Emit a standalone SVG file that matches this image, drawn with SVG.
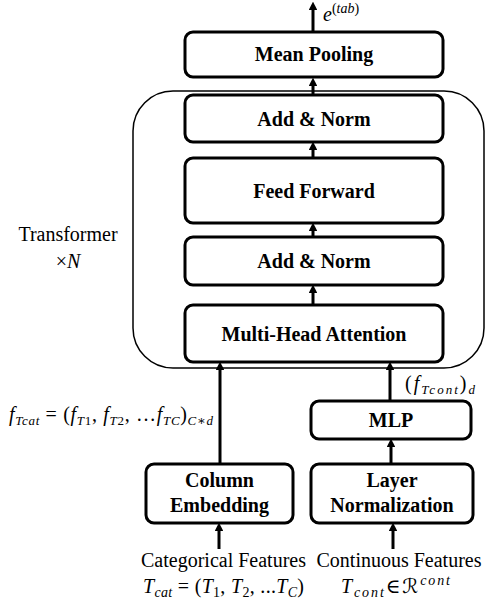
<svg xmlns="http://www.w3.org/2000/svg" width="486" height="606" viewBox="0 0 486 606">
<style>
.box{fill:#fff;stroke:#000;stroke-width:3}
.lbl{font-family:'Liberation Serif','Times New Roman','DejaVu Serif',serif;font-weight:bold;font-size:20px;text-anchor:middle;fill:#000}
.txt{font-family:'Liberation Serif','Times New Roman','DejaVu Serif',serif;font-size:20px;fill:#000}
.m{font-family:'Liberation Serif','Times New Roman','DejaVu Serif',serif;font-size:20px;fill:#000}
.i{font-style:italic}
.conn line{stroke:#000;stroke-width:3}
</style>
<defs>
<marker id="ah" viewBox="0 0 10 10" refX="0" refY="5" markerWidth="2.8" markerHeight="2.8" orient="auto" markerUnits="strokeWidth">
<path d="M0,0 L10,5 L0,10 z" fill="#000"/>
</marker>
</defs>
<rect id="transformer" x="133" y="91" width="351" height="277" rx="40" fill="none" stroke="#000" stroke-width="1.5"/>
<text class="txt" x="68" y="241" text-anchor="middle" font-size="22.5">Transformer</text>
<text class="txt" x="68" y="268" text-anchor="middle" font-size="22">×<tspan class="i">N</tspan></text>
<g class="conn">
<line x1="313" y1="32" x2="313" y2="10" marker-end="url(#ah)"/>
<line x1="313" y1="95" x2="313" y2="86" marker-end="url(#ah)"/>
<line x1="313" y1="158" x2="313" y2="150" marker-end="url(#ah)"/>
<line x1="313" y1="237" x2="313" y2="231" marker-end="url(#ah)"/>
<line x1="313" y1="305" x2="313" y2="293" marker-end="url(#ah)"/>
<line x1="220" y1="464" x2="220" y2="370" marker-end="url(#ah)"/>
<line x1="390" y1="401" x2="390" y2="370" marker-end="url(#ah)"/>
<line x1="391" y1="464" x2="391" y2="447" marker-end="url(#ah)"/>
<line x1="219" y1="549" x2="219" y2="531" marker-end="url(#ah)"/>
<line x1="393" y1="549" x2="393" y2="531" marker-end="url(#ah)"/>
</g>
<g id="mean-pooling"><rect class="box" x="185" y="32" width="258" height="45" rx="8"/><text class="lbl" x="314" y="61">Mean Pooling</text></g>
<g id="add-norm-1"><rect class="box" x="185" y="95" width="258" height="47" rx="8"/><text class="lbl" x="314" y="125.5">Add &amp; Norm</text></g>
<g id="feed-forward"><rect class="box" x="185" y="158" width="258" height="65" rx="8"/><text class="lbl" x="314" y="197.5">Feed Forward</text></g>
<g id="add-norm-2"><rect class="box" x="185" y="237" width="258" height="48" rx="8"/><text class="lbl" x="314" y="268">Add &amp; Norm</text></g>
<g id="mha"><rect class="box" x="185" y="305" width="258" height="57" rx="8"/><text class="lbl" x="314" y="340.5">Multi-Head Attention</text></g>
<g id="mlp"><rect class="box" x="311" y="401" width="160" height="38" rx="8"/><text class="lbl" x="391" y="427">MLP</text></g>
<g id="column-embedding"><rect class="box" x="146" y="464" width="147" height="59" rx="8"/><text class="lbl" x="219.5" y="487">Column</text><text class="lbl" x="219.5" y="512">Embedding</text></g>
<g id="layer-normalization"><rect class="box" x="311" y="464" width="162" height="59" rx="8"/><text class="lbl" x="392" y="487">Layer</text><text class="lbl" x="392" y="512">Normalization</text></g>
<text class="m" x="323" y="21"><tspan class="i">e</tspan><tspan font-size="14" dy="-8">(</tspan><tspan font-size="14" class="i">tab</tspan><tspan font-size="14">)</tspan></text>
<text class="m" x="405" y="390" textLength="70" lengthAdjust="spacing">(<tspan class="i">f</tspan><tspan class="i" font-size="13" dy="4">Tcont</tspan><tspan dy="-4">)</tspan><tspan class="i" font-size="13" dy="4">d</tspan></text>
<text class="m" x="9" y="421" textLength="204" lengthAdjust="spacing"><tspan class="i">f</tspan><tspan class="i" font-size="13" dy="4">Tcat</tspan><tspan dy="-4"> = (</tspan><tspan class="i">f</tspan><tspan class="i" font-size="13" dy="4">T</tspan><tspan font-size="13">1</tspan><tspan dy="-4">, </tspan><tspan class="i">f</tspan><tspan class="i" font-size="13" dy="4">T</tspan><tspan font-size="13">2</tspan><tspan dy="-4">, …</tspan><tspan class="i">f</tspan><tspan class="i" font-size="13" dy="4">TC</tspan><tspan dy="-4">)</tspan><tspan class="i" font-size="13" dy="4">C∗d</tspan></text>
<text class="txt" x="223.5" y="567" text-anchor="middle" font-size="19.5">Categorical Features</text>
<text class="txt" x="399" y="567" text-anchor="middle" font-size="19.5">Continuous Features</text>
<text class="m" x="143" y="593" textLength="161" lengthAdjust="spacing"><tspan class="i">T</tspan><tspan class="i" font-size="14" dy="4">cat</tspan><tspan dy="-4"> = (</tspan><tspan class="i">T</tspan><tspan font-size="14" dy="4">1</tspan><tspan dy="-4">, </tspan><tspan class="i">T</tspan><tspan font-size="14" dy="4">2</tspan><tspan dy="-4">, ...</tspan><tspan class="i">T</tspan><tspan class="i" font-size="14" dy="4">C</tspan><tspan dy="-4">)</tspan></text>
<text class="m" x="341" y="593" textLength="109" lengthAdjust="spacing"><tspan class="i">T</tspan><tspan class="i" font-size="14" dy="4">cont</tspan><tspan dy="-4">∈</tspan><tspan font-family="'DejaVu Sans',serif" class="i">ℛ</tspan><tspan class="i" font-size="14" dy="-8">cont</tspan></text>
</svg>
